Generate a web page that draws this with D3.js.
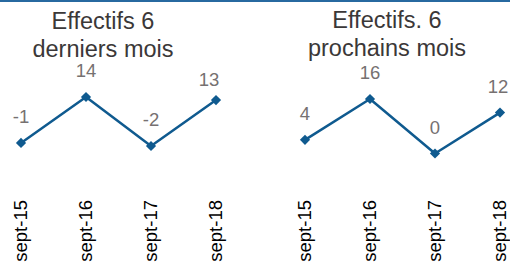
<!DOCTYPE html>
<html>
<head>
<meta charset="utf-8">
<script src="https://cdn.jsdelivr.net/npm/d3@7"></script>
<style>
  body { margin: 0; background: #fff; }
  text { font-family: "Liberation Sans", Arial, sans-serif; }
</style>
</head>
<body>
<svg id="chart" width="510" height="268"></svg>
<script>
const categories = ["sept-15", "sept-16", "sept-17", "sept-18"];
const pastValues = [-1, 14, -2, 13];
const nextValues = [4, 16, 0, 12];
const titles = [
  ["Effectifs 6", "derniers mois"],
  ["Effectifs. 6", "prochains mois"],
];

const lineColor = "#0f5a8f";
const svg = d3.select("#chart");

// thin rule across the top
svg.append("line")
  .attr("x1", 0).attr("x2", 510)
  .attr("y1", 1).attr("y2", 1)
  .attr("stroke", "#2769a0")
  .attr("stroke-width", 2);

const panels = [
  { values: pastValues, title: titles[0], x0: 0, yRange: [146, 97], titleY: [29, 57], nudge: { 3: [-7, 6] } },
  { values: nextValues, title: titles[1], x0: 284, yRange: [153.5, 99], titleY: [27.5, 55.5], nudge: { 3: [-2, 0] } },
];

panels.forEach((p) => {
  const g = svg.append("g").attr("transform", `translate(${p.x0},0)`);

  const x = d3.scalePoint().domain(categories).range([21, 216]);
  const y = d3.scaleLinear().domain(d3.extent(p.values)).range(p.yRange);

  g.selectAll(".title")
    .data(p.title)
    .enter()
    .append("text")
    .attr("x", 103)
    .attr("y", (d, i) => p.titleY[i])
    .attr("text-anchor", "middle")
    .attr("font-size", "23.5px")
    .attr("fill", "#3b3838")
    .text((d) => d);

  const pts = categories.map((c, i) => ({ c, v: p.values[i], i }));

  const line = d3.line()
    .x((d) => x(d.c))
    .y((d) => y(d.v));

  g.append("path")
    .datum(pts)
    .attr("d", line)
    .attr("fill", "none")
    .attr("stroke", lineColor)
    .attr("stroke-width", 2.5)
    .attr("stroke-linejoin", "round");

  g.selectAll(".marker")
    .data(pts)
    .enter()
    .append("path")
    .attr("d", d3.symbol().type(d3.symbolSquare).size(52))
    .attr("transform", (d) => `translate(${x(d.c)},${y(d.v)}) rotate(45)`)
    .attr("fill", lineColor);

  g.selectAll(".valueLabel")
    .data(pts)
    .enter()
    .append("text")
    .attr("x", (d) => x(d.c) + (p.nudge[d.i] ? p.nudge[d.i][0] : 0))
    .attr("y", (d) => y(d.v) - 20 + (p.nudge[d.i] ? p.nudge[d.i][1] : 0))
    .attr("text-anchor", "middle")
    .attr("font-size", "18.5px")
    .attr("fill", "#767171")
    .text((d) => d.v);

  g.selectAll(".catLabel")
    .data(categories)
    .enter()
    .append("text")
    .attr("transform", (d) => `translate(${x(d)},200) rotate(-90)`)
    .attr("dy", "0.35em")
    .attr("text-anchor", "end")
    .attr("font-size", "18.5px")
    .attr("fill", "#000")
    .text((d) => d);
});
</script>
</body>
</html>
